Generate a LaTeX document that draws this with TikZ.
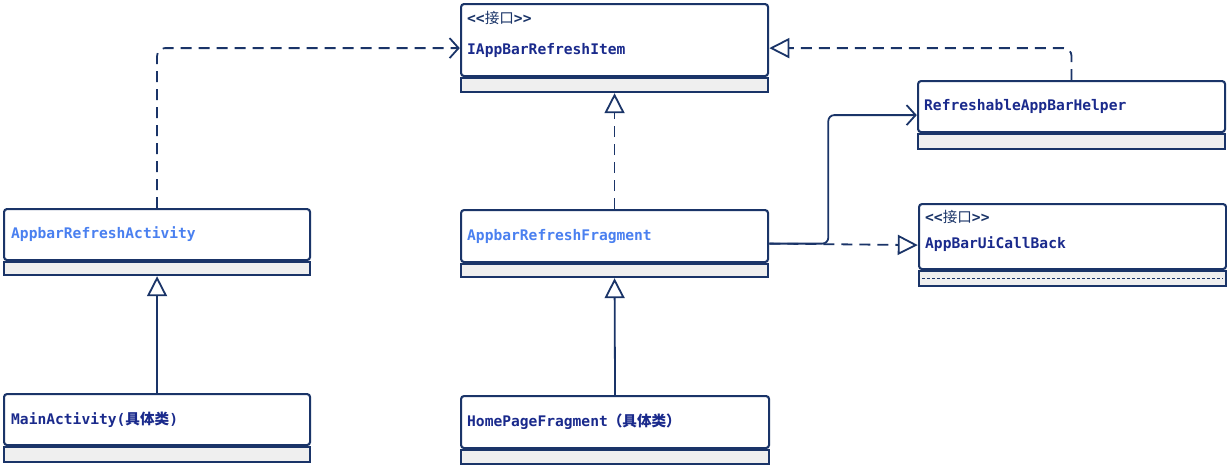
\documentclass[tikz,border=0pt]{standalone}
\usepackage{fontspec}
\setmonofont{DejaVu Sans Mono}
\newfontfamily\cjk{Noto Sans CJK SC}
\usetikzlibrary{arrows.meta,calc,fit}
\definecolor{lineC}{HTML}{1A3468}
\definecolor{nameC}{HTML}{1A2A8C}
\definecolor{absC}{HTML}{4A80F0}
\definecolor{compC}{HTML}{EFEFEF}
\tikzset{
  mainbox/.style={draw=lineC, line width=2.1pt, fill=white, rounded corners=3pt, inner sep=0pt, anchor=north west},
  compbox/.style={draw=lineC, line width=2.1pt, fill=compC, inner sep=0pt, anchor=north west},
  wholebox/.style={inner sep=0pt},
  ctext/.style={anchor=west, inner sep=0pt, font=\ttfamily\bfseries\fontsize{14.6}{17}\selectfont},
  nametext/.style={ctext, text=nameC},
  abstext/.style={ctext, text=absC},
  stereotext/.style={ctext, text=lineC},
  conn/.style={draw=lineC, line width=1.8pt},
  dashconn/.style={conn, dash pattern=on 11pt off 7pt},
  realize/.style={-{Triangle[open, length=20pt, width=20pt, line width=1.8pt]}},
  depend/.style={-{Straight Barb[length=9pt, width=20pt, line width=1.8pt]}},
}
\begin{document}
\begin{tikzpicture}[x=1pt,y=-1pt]
\useasboundingbox (0,0) rectangle (1227,464);
% IAppBarRefreshItem
\node[mainbox, minimum width=307pt, minimum height=72pt] (itemM) at (460,3) {};
\node[compbox, minimum width=307pt, minimum height=14pt] (itemC) at (itemM.south west) {};
\node[wholebox, fit=(itemM)(itemC)] (item) {};
\node[stereotext] (itemS) at ($(itemM.north west)+(7,15)$) {<<{\cjk\mdseries 接口}>>};
\node[nametext] (itemN) at ($(itemM.north west)+(7,47)$) {IAppBarRefreshItem};
% RefreshableAppBarHelper
\node[mainbox, minimum width=307pt, minimum height=51pt] (helpM) at (917,80) {};
\node[compbox, minimum width=307pt, minimum height=15pt] (helpC) at (helpM.south west) {};
\node[wholebox, fit=(helpM)(helpC)] (help) {};
\node[nametext] (helpN) at ($(helpM.west)+(7,0)$) {RefreshableAppBarHelper};
% AppBarUiCallBack
\node[mainbox, minimum width=307pt, minimum height=65pt] (cbM) at (918,203) {};
\node[compbox, minimum width=307pt, minimum height=15pt] (cbC) at (cbM.south west) {};
\node[wholebox, fit=(cbM)(cbC)] (cb) {};
\draw[draw=lineC, line width=1.2pt, dash pattern=on 3pt off 2pt] ($(cbC.west)+(4,0)$) -- ($(cbC.east)+(-4,0)$);
\node[stereotext] (cbS) at ($(cbM.north west)+(7,14)$) {<<{\cjk\mdseries 接口}>>};
\node[nametext] (cbN) at ($(cbM.north west)+(7,41)$) {AppBarUiCallBack};
% AppbarRefreshActivity
\node[mainbox, minimum width=306pt, minimum height=51pt] (actM) at (3,208) {};
\node[compbox, minimum width=306pt, minimum height=13pt] (actC) at (actM.south west) {};
\node[wholebox, fit=(actM)(actC)] (act) {};
\node[abstext] (actN) at ($(actM.west)+(8,0)$) {AppbarRefreshActivity};
% AppbarRefreshFragment
\node[mainbox, minimum width=307pt, minimum height=52pt] (fragM) at (460,209) {};
\node[compbox, minimum width=307pt, minimum height=13pt] (fragC) at (fragM.south west) {};
\node[wholebox, fit=(fragM)(fragC)] (frag) {};
\node[abstext] (fragN) at ($(fragM.west)+(7,0)$) {AppbarRefreshFragment};
% MainActivity
\node[mainbox, minimum width=306pt, minimum height=51pt] (mainM) at (3,393) {};
\node[compbox, minimum width=306pt, minimum height=15pt] (mainC) at (mainM.south west) {};
\node[nametext] (mainN) at ($(mainM.west)+(8,0)$) {MainActivity({\cjk\bfseries 具体类})};
% HomePageFragment
\node[mainbox, minimum width=308pt, minimum height=52pt] (homeM) at (460,395) {};
\node[compbox, minimum width=308pt, minimum height=14pt] (homeC) at (homeM.south west) {};
\node[nametext] (homeN) at ($(homeM.west)+(7,0)$) {HomePageFragment{\cjk\bfseries （具体类）}};
% connectors
\draw[dashconn, depend, rounded corners=8pt] (actM.north) |- (item.west);
\draw[dashconn, realize, rounded corners=8pt] (helpM.north) |- (item.east);
\draw[dashconn, realize] (fragM.north) -- (itemC.south);
\draw[conn, depend, rounded corners=6pt] (frag.east) -- ++(59,0) |- (help.west);
\draw[dashconn, realize] (frag.east) -- (cb.west);
\draw[conn, realize] (mainM.north) -- (actC.south);
\draw[conn, realize] (homeM.north) -- (fragC.south);
\end{tikzpicture}
\end{document}
